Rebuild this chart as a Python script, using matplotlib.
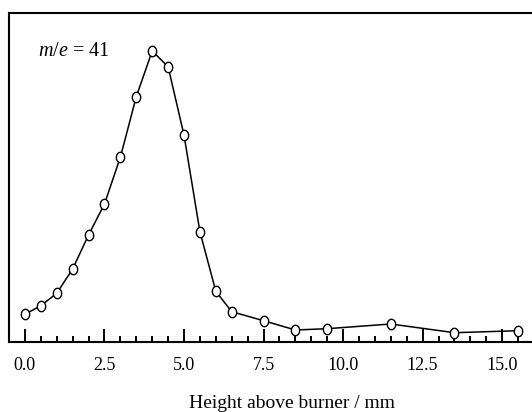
import matplotlib
matplotlib.use("Agg")
import numpy as np
import matplotlib.pyplot as plt
from matplotlib.ticker import FixedLocator
from matplotlib.path import Path

plt.rcParams['font.family'] = ['Liberation Serif', 'DejaVu Serif']
plt.rcParams['mathtext.fontset'] = 'custom'
plt.rcParams['mathtext.rm'] = 'Liberation Serif'
plt.rcParams['mathtext.it'] = 'Liberation Serif:italic'

height_mm = [0.0, 0.5, 1.0, 1.5, 2.0, 2.5, 3.0, 3.5, 4.0, 4.5, 5.0, 5.5, 6.0, 6.5,
             7.5, 8.5, 9.5, 11.5, 13.5, 15.5]
signal = [26.7, 35.3, 47.7, 72, 106, 137, 183.7, 244.3, 290, 274.3, 206, 109.3,
          49.7, 29.3, 20.3, 11, 12.3, 17, 8.3, 10.3]
major_ticks = [0.0, 2.5, 5.0, 7.5, 10.0, 12.5, 15.0]
major_labels = ["0.0", "2.5", "5.0", "7.5", "10.0", "12.5", "15.0"]
minor_ticks = [i * 0.5 for i in range(0, 32)]

# slightly tall elliptical marker shape
theta = np.linspace(0, 2 * np.pi, 41)
ellipse = Path(np.column_stack([0.8 * np.cos(theta), np.sin(theta)]), closed=True)

fig = plt.figure(figsize=(5.32, 4.12), dpi=100)
ax = fig.add_axes([9 / 532, (412 - 342) / 412, 525 / 532, (342 - 12.5) / 412])

ax.plot(height_mm, signal, color='black', linewidth=1.1, marker=ellipse, markersize=7.5,
        markerfacecolor='white', markeredgecolor='black', markeredgewidth=1.0, zorder=3)

ax.set_xlim(-0.5, 16.0)
ax.set_ylim(-1, 328.5)

ax.xaxis.set_major_locator(FixedLocator(major_ticks))
ax.set_xticklabels(major_labels)
ax.xaxis.set_minor_locator(FixedLocator(minor_ticks))
ax.tick_params(axis='x', which='major', direction='in', length=9.6, width=1.4,
               labelsize=13, pad=11)
ax.tick_params(axis='x', which='minor', direction='in', length=4.6, width=1.4)
ax.set_yticks([])

for s in ['left', 'top', 'bottom']:
    ax.spines[s].set_linewidth(1.5)
ax.spines['right'].set_visible(False)

fig.text(292 / 532, 4.5 / 412, 'Height above burner / mm', fontsize=14,
         ha='center', va='baseline')
ax.text((38 - 9) / 525, (342 - 56.5) / 329.5, r'$m/e$ = 41', fontsize=14.5,
        transform=ax.transAxes, ha='left', va='baseline')

fig.savefig('out.png', dpi=100)
